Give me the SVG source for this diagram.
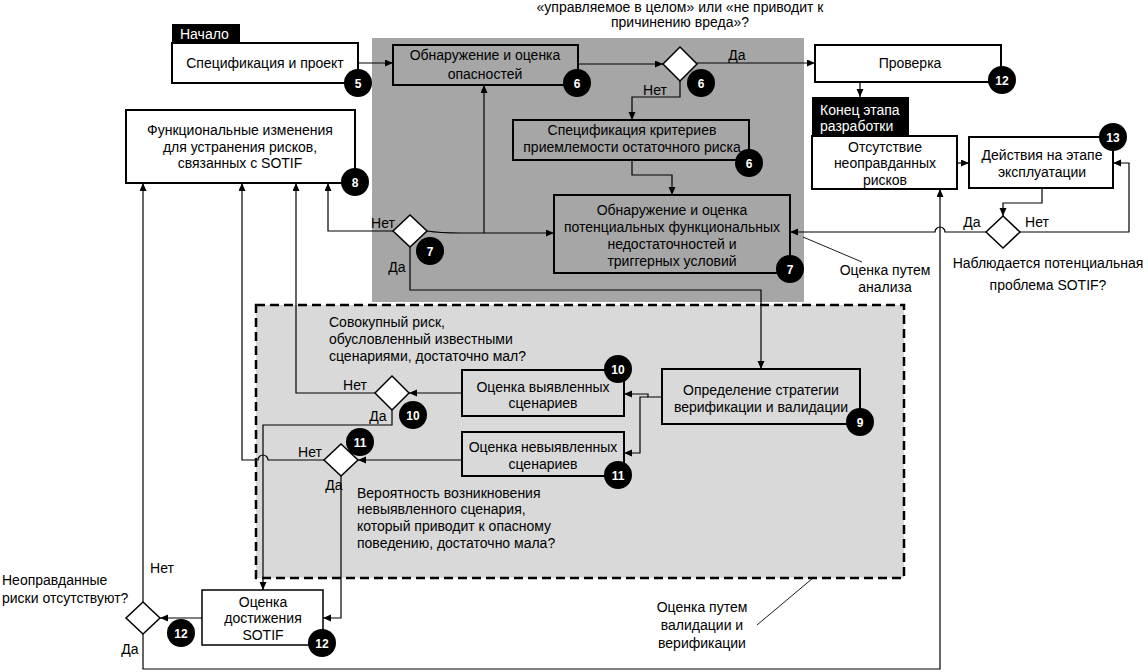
<svg xmlns="http://www.w3.org/2000/svg" width="1148" height="672" viewBox="0 0 1148 672">
<style>
text{font-family:"Liberation Sans",Arial,sans-serif;font-size:14px;fill:#000}
.c{text-anchor:middle}
.w{fill:#fff}
.box{fill:#fff;stroke:#000;stroke-width:2}
.gbox{fill:#a6a6a6;stroke:#000;stroke-width:2}
.lbox{fill:none;stroke:#000;stroke-width:2}
.ln{fill:none;stroke:#000;stroke-width:1.2}
.ptr{fill:none;stroke:#000;stroke-width:0.9}
.b circle{fill:#000}
.b text{fill:#fff;font-size:12px;font-weight:bold;text-anchor:middle}
.dia{fill:#fff;stroke:#000;stroke-width:1.5}
</style>
<defs>
<marker id="ar" markerWidth="9" markerHeight="8" refX="8" refY="3.5" orient="auto" markerUnits="userSpaceOnUse">
<path d="M0,0 L8,3.5 L0,7 z" fill="#000"/>
</marker>
</defs>
<rect width="1148" height="672" fill="#fff"/>
<g id="regions">
<rect x="372" y="38" width="432" height="264" fill="#a6a6a6"/>
<rect x="256" y="305" width="648" height="273" fill="#d9d9d9" stroke="#000" stroke-width="2.5" stroke-dasharray="9,5"/>
</g>
<g id="free-text">
<text class="c" x="680" y="12">«управляемое в целом» или «не приводит к</text>
<text class="c" x="680" y="27">причинению вреда»?</text>
<text x="329" y="327">Совокупный риск,</text>
<text x="329" y="344">обусловленный известными</text>
<text x="329" y="361">сценариями, достаточно мал?</text>
<text x="357" y="498">Вероятность возникновения</text>
<text x="357" y="514">невыявленного сценария,</text>
<text x="357" y="531">который приводит к опасному</text>
<text x="357" y="548">поведению, достаточно мала?</text>
<text x="2" y="585">Неоправданные</text>
<text x="2" y="603">риски отсутствуют?</text>
<text class="c" x="1048" y="268">Наблюдается потенциальная</text>
<text class="c" x="1048" y="290">проблема SOTIF?</text>
<text class="c" x="885" y="275">Оценка путем</text>
<text class="c" x="885" y="292">анализа</text>
<text class="c" x="702" y="612">Оценка путем</text>
<text class="c" x="702" y="630">валидации и</text>
<text class="c" x="702" y="648">верификации</text>
<text class="c" x="737" y="60">Да</text>
<text class="c" x="655" y="95">Нет</text>
<text class="c" x="383" y="228">Нет</text>
<text class="c" x="397" y="272">Да</text>
<text class="c" x="972" y="227">Да</text>
<text class="c" x="1037" y="227">Нет</text>
<text class="c" x="355" y="390">Нет</text>
<text class="c" x="378" y="421">Да</text>
<text class="c" x="310" y="457">Нет</text>
<text class="c" x="334" y="490">Да</text>
<text class="c" x="162" y="573">Нет</text>
<text class="c" x="130" y="654">Да</text>
</g>
<g id="connectors">
<path class="ln" d="M358,63 H393" marker-end="url(#ar)"/>
<path class="ln" d="M578,64 H663" marker-end="url(#ar)"/>
<path class="ln" d="M697,63 H815" marker-end="url(#ar)"/>
<path class="ln" d="M680,81 V97 H632 V120" marker-end="url(#ar)"/>
<path class="ln" d="M632,160 V175 H672 V195" marker-end="url(#ar)"/>
<path class="ln" d="M860,82 V97" marker-end="url(#ar)"/>
<path class="ln" d="M957,163 H969" marker-end="url(#ar)"/>
<path class="ln" d="M1042,188 V203 H1003 V216" marker-end="url(#ar)"/>
<path class="ln" d="M1020,232 H1129 V163 H1113" marker-end="url(#ar)"/>
<path class="ln" d="M986,232 H945 A5,5 0 0 0 935,232 H790" marker-end="url(#ar)"/>
<path class="ptr" d="M862,262 L803,237"/>
<path class="ln" d="M143,634 V669 H940 V189" marker-end="url(#ar)"/>
<path class="ln" d="M143,602 V183" marker-end="url(#ar)"/>
<path class="ln" d="M324,460 H268 A5,5 0 0 0 258,460 H242 V183" marker-end="url(#ar)"/>
<path class="ln" d="M375,393 H296 V183" marker-end="url(#ar)"/>
<path class="ln" d="M393,231 H328 V183" marker-end="url(#ar)"/>
<path class="ln" d="M427,231 Q440,233 460,233 H554" marker-end="url(#ar)"/>
<path class="ln" d="M484,233 V85" marker-end="url(#ar)"/>
<path class="ln" d="M410,247 V290 H761 V369" marker-end="url(#ar)"/>
<path class="ln" d="M662,397 H648 V394 H624" marker-end="url(#ar)"/>
<path class="ln" d="M648,397 H640 V453 H624" marker-end="url(#ar)"/>
<path class="ln" d="M462,393 H409" marker-end="url(#ar)"/>
<path class="ln" d="M392,410 V425 H263 V590" marker-end="url(#ar)"/>
<path class="ln" d="M462,460 H358" marker-end="url(#ar)"/>
<path class="ln" d="M341,476 V618 H323" marker-end="url(#ar)"/>
<path class="ln" d="M202,618 H160" marker-end="url(#ar)"/>
<path class="ptr" d="M757,625 L813,578"/>
</g>
<g id="start">
<rect x="172" y="24" width="68" height="19" fill="#000"/>
<text class="w" x="180" y="39">Начало</text>
<rect class="box" x="172" y="43" width="186" height="40"/>
<text class="c" x="265" y="68">Спецификация и проект</text>
</g>
<g id="hazard">
<rect class="gbox" x="393" y="45" width="185" height="40"/>
<text class="c" x="485" y="60">Обнаружение и оценка</text>
<text class="c" x="485" y="79">опасностей</text>
</g>
<g id="decision6"><path class="dia" d="M680,47 L697,64 L680,81 L663,64 z"/></g>
<g id="verification">
<rect class="box" x="815" y="45" width="186" height="37"/>
<text class="c" x="910" y="68">Проверка</text>
</g>
<g id="no-unreasonable-risk">
<rect class="box" x="812" y="136" width="145" height="53"/>
<text class="c" x="885" y="152">Отсутствие</text>
<text class="c" x="885" y="168">неоправданных</text>
<text class="c" x="885" y="185">рисков</text>
<rect x="812" y="97" width="97" height="39" fill="#000"/>
<text class="w" x="820" y="115">Конец этапа</text>
<text class="w" x="820" y="131">разработки</text>
</g>
<g id="operation">
<rect class="box" x="969" y="137" width="144" height="51"/>
<text class="c" x="1042" y="160">Действия на этапе</text>
<text class="c" x="1042" y="177">эксплуатации</text>
</g>
<g id="decision13"><path class="dia" d="M1003,216 L1020,232 L1003,248 L986,232 z"/></g>
<g id="criteria">
<rect class="gbox" x="513" y="120" width="236" height="40"/>
<text class="c" x="632" y="135">Спецификация критериев</text>
<text class="c" x="632" y="152">приемлемости остаточного риска</text>
</g>
<g id="potential">
<rect class="gbox" x="554" y="195" width="236" height="78"/>
<text class="c" x="672" y="215">Обнаружение и оценка</text>
<text class="c" x="672" y="232">потенциальных функциональных</text>
<text class="c" x="672" y="249">недостаточностей и</text>
<text class="c" x="672" y="266">триггерных условий</text>
</g>
<g id="decision7"><path class="dia" d="M410,215 L427,231 L410,247 L393,231 z"/></g>
<g id="functional-changes">
<rect class="box" x="126" y="110" width="229" height="73"/>
<text class="c" x="240" y="135">Функциональные изменения</text>
<text class="c" x="240" y="152">для устранения рисков,</text>
<text class="c" x="240" y="168">связанных с SOTIF</text>
</g>
<g id="strategy">
<rect class="lbox" x="662" y="369" width="198" height="55"/>
<text class="c" x="761" y="395">Определение стратегии</text>
<text class="c" x="761" y="412">верификации и валидации</text>
</g>
<g id="known">
<rect class="lbox" x="462" y="370" width="162" height="46"/>
<text class="c" x="543" y="392">Оценка выявленных</text>
<text class="c" x="543" y="408">сценариев</text>
</g>
<g id="unknown">
<rect class="lbox" x="462" y="432" width="162" height="44"/>
<text class="c" x="543" y="452">Оценка невыявленных</text>
<text class="c" x="543" y="469">сценариев</text>
</g>
<g id="decision10"><path class="dia" d="M392,376 L409,393 L392,410 L375,393 z"/></g>
<g id="decision11"><path class="dia" d="M341,444 L358,460 L341,476 L324,460 z"/></g>
<g id="sotif-achievement">
<rect class="box" x="202" y="590" width="121" height="55" style="stroke-width:1.5"/>
<text class="c" x="263" y="607">Оценка</text>
<text class="c" x="263" y="623">достижения</text>
<text class="c" x="263" y="640">SOTIF</text>
</g>
<g id="decision12"><path class="dia" d="M143,602 L160,618 L143,634 L126,618 z"/></g>
<g id="badges">
<g class="b"><circle cx="358" cy="83" r="14"/><text x="358" y="87.5">5</text></g>
<g class="b"><circle cx="577" cy="83" r="14"/><text x="577" y="87.5">6</text></g>
<g class="b"><circle cx="701" cy="83" r="14"/><text x="701" y="87.5">6</text></g>
<g class="b"><circle cx="1002" cy="80" r="14"/><text x="1002" y="84.5">12</text></g>
<g class="b"><circle cx="1113" cy="137" r="14"/><text x="1113" y="141.5">13</text></g>
<g class="b"><circle cx="749" cy="163" r="14"/><text x="749" y="167.5">6</text></g>
<g class="b"><circle cx="355" cy="182" r="14"/><text x="355" y="186.5">8</text></g>
<g class="b"><circle cx="430" cy="251" r="14"/><text x="430" y="255.5">7</text></g>
<g class="b"><circle cx="790" cy="269" r="14"/><text x="790" y="273.5">7</text></g>
<g class="b"><circle cx="618" cy="369" r="14"/><text x="618" y="373.5">10</text></g>
<g class="b"><circle cx="413" cy="415" r="14"/><text x="413" y="419.5">10</text></g>
<g class="b"><circle cx="860" cy="422" r="14"/><text x="860" y="426.5">9</text></g>
<g class="b"><circle cx="360" cy="442" r="14"/><text x="360" y="446.5">11</text></g>
<g class="b"><circle cx="618" cy="475" r="14"/><text x="618" y="479.5">11</text></g>
<g class="b"><circle cx="181" cy="633" r="14"/><text x="181" y="637.5">12</text></g>
<g class="b"><circle cx="322" cy="643" r="14"/><text x="322" y="647.5">12</text></g>
</g>
</svg>
